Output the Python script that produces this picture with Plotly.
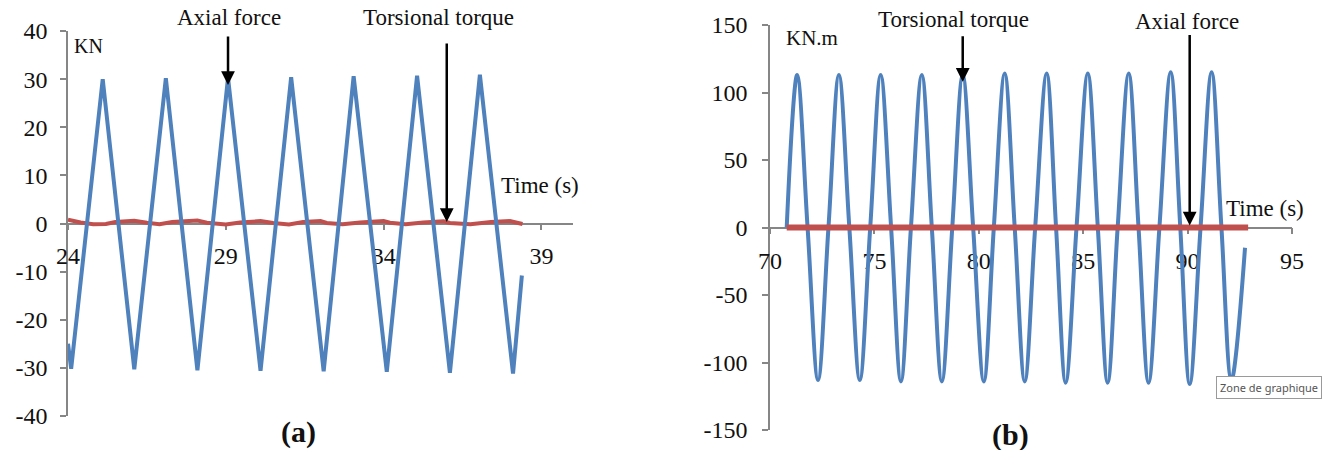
import plotly.graph_objects as go

W, H = 1325, 450

# ---- Panel (a): axial force (KN) and torsional torque over time ----
axial_a_t = [24.0, 24.1, 25.1, 26.1, 27.1, 28.1, 29.07, 30.1, 31.07, 32.1,
             33.05, 34.1, 35.06, 36.1, 37.05, 38.1, 38.38]
axial_a_v = [-25.0, -30.2, 30.0, -30.3, 30.2, -30.5, 30.3, -30.6, 30.4, -30.7,
             30.6, -30.8, 30.7, -31.0, 30.9, -31.2, -10.8]

torque_a_t = [24.0, 24.4, 24.8, 25.2, 25.5, 26.1, 26.5, 26.9, 27.3, 28.1, 28.4,
              29.0, 29.45, 30.1, 30.5, 31.0, 31.45, 32.0, 32.2, 32.7, 33.25, 34.0,
              34.2, 34.7, 35.25, 35.9, 36.1, 36.75, 37.4, 38.0, 38.4]
torque_a_v = [0.8, 0.2, -0.15, -0.1, 0.3, 0.55, 0.15, -0.15, 0.3, 0.6, 0.15,
              -0.2, 0.2, 0.5, 0.1, -0.2, 0.3, 0.5, 0.1, -0.15, 0.2, 0.5,
              0.15, -0.15, 0.2, 0.45, 0.1, -0.15, 0.3, 0.5, -0.1]

# ---- Panel (b): torsional torque (KN.m) and axial force over time ----
torque_b_t = [70.8, 71.3, 71.8, 72.3, 72.8, 73.3, 73.8, 74.3, 74.8, 75.3, 75.8,
              76.27, 76.75, 77.27, 77.75, 78.23, 78.73, 79.23, 79.73, 80.24, 80.72,
              81.24, 81.72, 82.2, 82.7, 83.25, 83.7, 84.16, 84.68, 85.22, 85.7,
              86.17, 86.65, 87.18, 87.65, 88.13, 88.65, 89.19, 89.65, 90.1, 90.62,
              91.15, 91.62, 92.1, 92.75]
torque_b_v = [0, 113, 0, -113, 0, 113, 0, -113, 0, 113, 0,
              -114, 0, 113, 0, -114, 0, 113, 0, -114, 0,
              114, 0, -114, 0, 114, 0, -115, 0, 114, 0,
              -115, 0, 114, 0, -115, 0, 115, 0, -116, 0,
              115, 0, -113, -15]

axial_b_t = [70.8, 75.0, 80.0, 85.0, 90.0, 92.9]
axial_b_v = [0, 0, 0, 0, 0, 0]

# tick positions and their printed labels (plain hyphen minus)
xa_ticks = [24, 29, 34, 39]
xa_labels = ["24", "29", "34", "39"]
ya_ticks = [-40, -30, -20, -10, 0, 10, 20, 30, 40]
ya_labels = ["-40", "-30", "-20", "-10", "0", "10", "20", "30", "40"]
xb_ticks = [70, 75, 80, 85, 90, 95]
xb_labels = ["70", "75", "80", "85", "90", "95"]
yb_ticks = [-150, -100, -50, 0, 50, 100, 150]
yb_labels = ["-150", "-100", "-50", "0", "50", "100", "150"]

BLUE = "#4F81BD"
RED = "#C0504D"
AXIS = "#868686"
SERIF = "Liberation Serif"
TXT = "#111111"


def fx(px):
    return px / W


def fy(py):
    return 1 - py / H


fig = go.Figure()
fig.add_trace(go.Scatter(x=torque_a_t, y=torque_a_v, mode="lines",
                         line=dict(color=RED, width=4), xaxis="x", yaxis="y"))
fig.add_trace(go.Scatter(x=axial_a_t, y=axial_a_v, mode="lines",
                         line=dict(color=BLUE, width=4), xaxis="x", yaxis="y"))
fig.add_trace(go.Scatter(x=torque_b_t, y=torque_b_v, mode="lines",
                         line=dict(color=BLUE, width=4, shape="spline", smoothing=1),
                         xaxis="x2", yaxis="y2"))
fig.add_trace(go.Scatter(x=axial_b_t, y=axial_b_v, mode="lines",
                         line=dict(color=RED, width=6), xaxis="x2", yaxis="y2"))

ydom_a = [fy(416), fy(31)]
ydom_b = [fy(430), fy(25)]
tickfont = dict(family=SERIF, size=24, color=TXT)
common = dict(showline=True, linecolor=AXIS, linewidth=1.5, ticks="outside",
              ticklen=6, tickcolor=AXIS, tickwidth=1.5, showgrid=False,
              zeroline=False, tickfont=tickfont, automargin=False,
              layer="below traces", tickmode="array")

fig.update_layout(
    width=W, height=H,
    margin=dict(l=0, r=0, t=0, b=0, autoexpand=False),
    paper_bgcolor="white", plot_bgcolor="white",
    showlegend=False, hovermode=False,
    xaxis=dict(domain=[fx(68), fx(573)], range=[24, 40], tickvals=xa_ticks,
               ticktext=xa_labels, anchor="free", position=sum(ydom_a) / 2,
               ticklabelstandoff=5, **common),
    yaxis=dict(domain=ydom_a, range=[-40, 40], tickvals=ya_ticks,
               ticktext=ya_labels, anchor="x", ticklabelstandoff=8, **common),
    xaxis2=dict(domain=[fx(770), fx(1292)], range=[70, 95], tickvals=xb_ticks,
                ticktext=xb_labels, anchor="free", position=sum(ydom_b) / 2,
                ticklabelstandoff=6, **common),
    yaxis2=dict(domain=ydom_b, range=[-150, 150], tickvals=yb_ticks,
                ticktext=yb_labels, anchor="x2", ticklabelstandoff=10, **common),
)


def label(text, px, py, size=23, bold=False, xanchor="center"):
    fig.add_annotation(text=f"<b>{text}</b>" if bold else text,
                       xref="paper", yref="paper", x=fx(px), y=fy(py),
                       xanchor=xanchor, yanchor="middle", showarrow=False,
                       font=dict(family=SERIF, size=size, color=TXT))


def arrow(xref, yref, x, y, tail_dy):
    fig.add_annotation(text="", xref=xref, yref=yref, x=x, y=y,
                       axref="pixel", ayref="pixel", ax=0, ay=tail_dy,
                       showarrow=True, arrowhead=2, arrowsize=1.1,
                       arrowwidth=2.5, arrowcolor="black")


# panel (a) labels
label("KN", 88, 46, size=20)
label("Axial force", 229, 17)
label("Torsional torque", 438, 17)
label("Time (s)", 540, 185)
label("(a)", 298, 432, size=30, bold=True)
arrow("x", "y", 29.07, 28.8, -50)
arrow("x", "y", 36.0, 0.3, -180)

# panel (b) labels
label("KN.m", 812, 38, size=21)
label("Torsional torque", 953, 20)
label("Axial force", 1187, 22)
label("Time (s)", 1265, 208)
label("(b)", 1010, 435, size=30, bold=True)
arrow("x2", "y2", 79.23, 108, -47)
arrow("x2", "y2", 90.1, 1.5, -192)

# chart-area tooltip box at the right edge
fig.add_annotation(text="Zone de graphique", xref="paper", yref="paper",
                   x=fx(1216), y=fy(387), xanchor="left", yanchor="middle",
                   showarrow=False, bgcolor="white", bordercolor="#9a9a9a",
                   borderwidth=1, borderpad=3,
                   font=dict(family="Noto Sans", size=11, color="#555555"))

fig.write_html("out.html")
